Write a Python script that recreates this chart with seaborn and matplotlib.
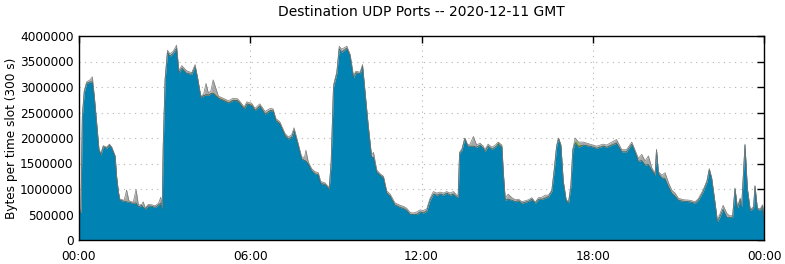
import numpy as np
import matplotlib
matplotlib.use("Agg")
import matplotlib.pyplot as plt
import seaborn as sns
from matplotlib.ticker import FuncFormatter, MultipleLocator

# time of each sample (minutes after 00:00 GMT)
minutes = [
    0, 4, 7, 11, 16, 23, 28, 32, 37, 42,
    46, 51, 58, 64, 69, 76, 79, 83, 86, 95,
    100, 105, 114, 120, 125, 132, 135, 139, 146, 153,
    160, 167, 172, 175, 177, 181, 186, 191, 198, 205,
    210, 216, 226, 237, 244, 249, 256, 262, 267, 272,
    277, 282, 293, 303, 314, 324, 333, 338, 347, 353,
    363, 370, 380, 391, 402, 408, 414, 422, 433, 440,
    447, 452, 460, 468, 474, 477, 482, 489, 496, 503,
    508, 517, 526, 530, 535, 542, 547, 552, 563, 570,
    577, 582, 591, 596, 601, 608, 615, 619, 626, 633,
    640, 647, 654, 664, 675, 682, 689, 696, 703, 710,
    717, 724, 731, 738, 745, 752, 759, 766, 773, 780,
    787, 794, 797, 800, 805, 811, 817, 822, 829, 836,
    843, 850, 853, 860, 868, 875, 881, 889, 892, 896,
    902, 910, 917, 924, 931, 938, 945, 952, 959, 966,
    973, 980, 987, 994, 999, 1004, 1008, 1013, 1018, 1024,
    1029, 1034, 1038, 1043, 1050, 1060, 1074, 1088, 1102, 1109,
    1120, 1130, 1141, 1151, 1162, 1169, 1176, 1183, 1190, 1197,
    1204, 1211, 1214, 1218, 1225, 1232, 1239, 1246, 1253, 1260,
    1270, 1284, 1295, 1302, 1312, 1320, 1325, 1330, 1337, 1342,
    1347, 1354, 1362, 1368, 1374, 1379, 1384, 1390, 1393, 1400,
    1405, 1411, 1418, 1421, 1426, 1432, 1437, 1440,
]

# main (blue) port, million bytes per slot
main_mb = [
    0.62, 0.53, 2.42, 2.90, 3.07, 3.10, 3.10, 2.81, 2.29, 1.76,
    1.67, 1.83, 1.80, 1.86, 1.80, 1.63, 1.24, 0.92, 0.78, 0.76,
    0.75, 0.74, 0.72, 0.73, 0.65, 0.68, 0.64, 0.61, 0.67, 0.66,
    0.64, 0.69, 0.72, 0.61, 1.83, 3.14, 3.68, 3.60, 3.66, 3.76,
    3.28, 3.37, 3.27, 3.25, 3.40, 3.18, 2.80, 2.83, 2.85, 2.84,
    2.87, 2.88, 2.78, 2.74, 2.69, 2.74, 2.73, 2.68, 2.57, 2.67,
    2.64, 2.54, 2.63, 2.47, 2.54, 2.53, 2.34, 2.28, 2.05, 1.98,
    2.02, 2.15, 1.88, 1.59, 1.56, 1.55, 1.49, 1.36, 1.30, 1.28,
    1.11, 1.09, 1.00, 1.50, 3.00, 3.27, 3.75, 3.68, 3.76, 3.60,
    3.18, 3.28, 3.26, 3.41, 2.92, 2.22, 1.62, 1.62, 1.33, 1.27,
    1.22, 0.92, 0.86, 0.69, 0.64, 0.62, 0.58, 0.50, 0.50, 0.50,
    0.55, 0.53, 0.57, 0.78, 0.90, 0.88, 0.90, 0.88, 0.92, 0.88,
    0.90, 0.84, 0.83, 1.70, 1.76, 1.99, 1.84, 1.84, 1.84, 1.82,
    1.86, 1.80, 1.73, 1.84, 1.78, 1.82, 1.88, 1.82, 1.30, 0.78,
    0.80, 0.78, 0.75, 0.77, 0.72, 0.74, 0.76, 0.80, 0.72, 0.80,
    0.80, 0.82, 0.85, 0.96, 1.37, 1.83, 1.99, 1.85, 1.14, 0.78,
    0.72, 1.05, 1.76, 1.90, 1.82, 1.86, 1.84, 1.80, 1.84, 1.82,
    1.86, 1.90, 1.73, 1.73, 1.88, 1.72, 1.54, 1.56, 1.47, 1.48,
    1.37, 1.27, 1.76, 1.30, 1.22, 1.20, 1.05, 0.92, 0.86, 0.78,
    0.76, 0.75, 0.72, 0.78, 0.95, 1.14, 1.38, 1.20, 0.72, 0.36,
    0.45, 0.60, 0.44, 0.44, 0.45, 1.00, 0.62, 0.80, 0.65, 1.86,
    1.00, 0.58, 0.62, 1.05, 0.60, 0.58, 0.66, 0.42,
]

# top of the whole stack, million bytes per slot
total_mb = [
    0.64, 0.55, 2.45, 2.93, 3.10, 3.14, 3.20, 2.85, 2.32, 1.78,
    1.70, 1.85, 1.82, 1.88, 1.82, 1.65, 1.26, 0.94, 0.80, 0.78,
    0.98, 0.77, 0.74, 0.99, 0.68, 0.70, 0.75, 0.63, 0.70, 0.69,
    0.67, 0.72, 0.84, 0.63, 1.85, 3.17, 3.72, 3.65, 3.70, 3.82,
    3.32, 3.42, 3.32, 3.28, 3.44, 3.20, 2.82, 2.86, 3.07, 2.88,
    2.92, 3.14, 2.82, 2.78, 2.73, 2.78, 2.77, 2.72, 2.61, 2.71,
    2.68, 2.58, 2.67, 2.52, 2.58, 2.57, 2.38, 2.32, 2.09, 2.02,
    2.06, 2.20, 1.92, 1.63, 1.62, 1.76, 1.53, 1.40, 1.34, 1.32,
    1.15, 1.12, 1.03, 1.53, 3.04, 3.30, 3.80, 3.74, 3.80, 3.64,
    3.22, 3.31, 3.29, 3.44, 2.95, 2.26, 1.66, 1.72, 1.37, 1.30,
    1.25, 0.96, 0.90, 0.73, 0.68, 0.66, 0.62, 0.54, 0.53, 0.55,
    0.59, 0.58, 0.61, 0.82, 0.95, 0.92, 0.94, 0.92, 0.95, 0.92,
    0.95, 0.88, 0.86, 1.72, 1.79, 2.00, 1.87, 1.88, 2.03, 1.86,
    1.90, 1.84, 1.77, 1.88, 1.82, 1.86, 1.92, 1.86, 1.34, 0.82,
    0.90, 0.83, 0.79, 0.80, 0.75, 0.77, 0.79, 0.83, 0.74, 0.83,
    0.84, 0.88, 0.88, 0.98, 1.39, 1.85, 2.00, 1.87, 1.16, 0.80,
    0.74, 1.07, 1.78, 2.00, 1.92, 1.92, 1.88, 1.84, 1.88, 1.86,
    1.92, 1.97, 1.77, 1.77, 1.92, 1.76, 1.60, 1.68, 1.55, 1.65,
    1.42, 1.30, 1.78, 1.34, 1.27, 1.32, 1.13, 0.98, 0.92, 0.82,
    0.79, 0.78, 0.75, 0.81, 0.98, 1.16, 1.40, 1.22, 0.74, 0.38,
    0.50, 0.68, 0.52, 0.47, 0.48, 1.02, 0.65, 0.82, 0.67, 1.88,
    1.02, 0.60, 0.65, 1.07, 0.63, 0.61, 0.69, 0.44,
]

# thin orange and green ports, thousand bytes per slot
orange_kb = [
    10, 10, 10, 10, 10, 10, 10, 10, 10, 10,
    10, 10, 10, 10, 10, 10, 10, 10, 10, 10,
    10, 10, 10, 10, 10, 10, 10, 10, 10, 10,
    10, 10, 10, 10, 10, 10, 10, 10, 10, 12,
    12, 12, 12, 12, 12, 12, 20, 22, 22, 22,
    22, 22, 24, 22, 22, 24, 22, 22, 24, 22,
    22, 22, 22, 20, 22, 20, 20, 20, 18, 18,
    16, 16, 14, 14, 12, 12, 12, 12, 12, 12,
    10, 10, 10, 10, 10, 10, 10, 10, 10, 10,
    10, 10, 10, 10, 10, 10, 10, 10, 10, 10,
    10, 10, 10, 10, 10, 10, 10, 10, 12, 12,
    12, 12, 12, 10, 10, 10, 10, 10, 10, 10,
    10, 10, 10, 10, 10, 10, 10, 10, 10, 10,
    10, 10, 10, 10, 10, 10, 10, 10, 10, 10,
    10, 10, 10, 10, 10, 10, 10, 10, 10, 10,
    10, 10, 10, 10, 10, 10, 10, 10, 10, 10,
    10, 10, 10, 10, 10, 10, 10, 10, 10, 10,
    10, 10, 10, 10, 10, 10, 10, 10, 10, 10,
    10, 10, 10, 10, 10, 10, 10, 12, 12, 12,
    12, 10, 10, 10, 10, 10, 10, 10, 10, 10,
    10, 10, 10, 10, 10, 10, 10, 10, 10, 10,
    10, 10, 10, 10, 10, 10, 10, 10,
]

green_kb = [
    5, 5, 5, 5, 5, 5, 5, 5, 5, 5,
    5, 5, 5, 5, 5, 5, 5, 5, 5, 5,
    5, 5, 5, 5, 5, 5, 5, 5, 5, 5,
    5, 5, 5, 5, 5, 5, 5, 5, 5, 5,
    5, 5, 5, 5, 5, 5, 5, 5, 5, 5,
    5, 5, 5, 5, 5, 5, 5, 5, 5, 5,
    5, 5, 5, 5, 5, 5, 5, 5, 5, 5,
    5, 5, 5, 5, 5, 5, 5, 5, 5, 5,
    5, 5, 5, 5, 5, 5, 5, 5, 5, 5,
    5, 5, 5, 5, 5, 5, 5, 5, 5, 5,
    5, 5, 5, 5, 5, 5, 5, 5, 5, 5,
    5, 5, 5, 5, 5, 5, 5, 5, 5, 5,
    5, 5, 5, 5, 5, 5, 5, 5, 5, 5,
    5, 5, 5, 5, 5, 5, 40, 5, 5, 5,
    5, 5, 5, 5, 5, 5, 5, 5, 5, 5,
    5, 5, 5, 5, 5, 5, 5, 5, 5, 5,
    5, 5, 5, 60, 40, 5, 5, 5, 5, 5,
    5, 5, 5, 5, 5, 5, 5, 5, 5, 5,
    5, 5, 5, 5, 5, 5, 5, 5, 5, 5,
    5, 5, 5, 5, 5, 5, 5, 5, 5, 5,
    5, 5, 5, 5, 5, 5, 5, 5, 5, 5,
    5, 5, 5, 5, 5, 5, 5, 5,
]

x_tick_hours = [0, 6, 12, 18, 24]
x_tick_labels = ["00:00", "06:00", "12:00", "18:00", "00:00"]
title = "Destination UDP Ports -- 2020-12-11 GMT"
ylabel = "Bytes per time slot (300 s)"

sns.set_theme(style="white")
plt.rcParams['font.family'] = ['DejaVu Sans']

W, H = 785, 264
fig = plt.figure(figsize=(W / 100, H / 100), dpi=100)
ax = fig.add_axes([79 / W, 24 / H, 685 / W, 204 / H])

hours = np.array(minutes) / 60.0
main = np.array(main_mb) * 1e6
orange = np.array(orange_kb) * 1e3
green = np.array(green_kb) * 1e3
total = np.array(total_mb) * 1e6
other = np.clip(total - main - orange - green, 0, None)

ax.stackplot(hours, main, orange, green, other,
             colors=["#0083b3", "#c8641e", "#6aa121", "#a8a8a8"],
             linewidth=0)
sns.lineplot(x=hours, y=main, ax=ax, color="#2f6a78", linewidth=0.6)
sns.lineplot(x=hours, y=total, ax=ax, color="#7a7a7a", linewidth=0.5)

ax.set_xlim(0, 24)
ax.set_ylim(0, 4e6)
ax.set_xticks(x_tick_hours)
ax.set_xticklabels(x_tick_labels)
ax.yaxis.set_major_locator(MultipleLocator(5e5))
ax.yaxis.set_major_formatter(FuncFormatter(lambda v, p: f"{int(round(v))}"))
ax.set_xlabel("")
ax.set_ylabel("")

ax.set_axisbelow(True)
ax.grid(True, linestyle=(0, (1, 4)), color="#b4b4b4", linewidth=0.8)
ax.tick_params(direction="in", length=5, width=1, top=True, right=True,
               labelsize=8.7, colors="black", pad=4)
ax.tick_params(axis="x", pad=7)
for s in ax.spines.values():
    s.set_color("black")
    s.set_linewidth(1.0)

fig.text(421.5 / W, 1 - 12 / H, title, ha="center", va="center", fontsize=10, color="black")
fig.text(12 / W, 1 - 138 / H, ylabel, ha="center", va="center", rotation=90,
         fontsize=8.7, color="black")

fig.savefig("out.png", dpi=100, facecolor="white")
